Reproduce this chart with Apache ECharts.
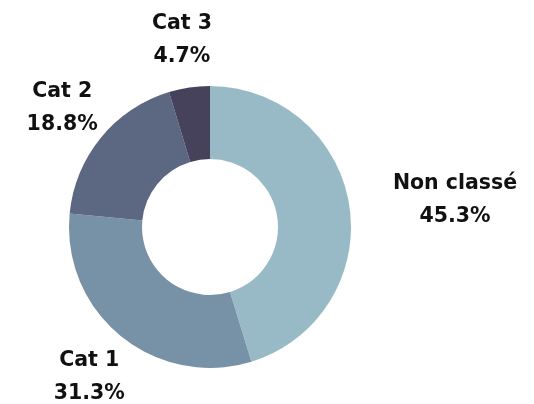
<!DOCTYPE html>
<html>
<head>
<meta charset="utf-8">
<script src="https://cdn.jsdelivr.net/npm/echarts@6/dist/echarts.min.js"></script>
<style>
html,body{margin:0;padding:0;background:#fff;}
#chart{width:534px;height:404px;}
</style>
</head>
<body>
<div id="chart"></div>
<script>
const categories = ['Non classé', 'Cat 1', 'Cat 2', 'Cat 3'];
const percentValues = [45.3, 31.3, 18.8, 4.7];
const sliceColors = ['#98bac7', '#7791a6', '#5c6881', '#46425b'];

const chart = echarts.init(document.getElementById('chart'), null, {renderer: 'canvas'});
const option = {
  backgroundColor: '#ffffff',
  animation: false,
  series: [{
    type: 'pie',
    center: [210, 227],
    radius: [68, 141],
    startAngle: 90,
    clockwise: true,
    avoidLabelOverlap: false,
    data: categories.map((name, i) => ({
      name: name,
      value: percentValues[i],
      itemStyle: {color: sliceColors[i]}
    })),
    label: {
      show: true,
      position: 'outside',
      formatter: p => p.name + '\n' + p.value.toFixed(1) + '%',
      fontFamily: 'DejaVu Sans',
      fontWeight: 'bold',
      fontSize: 20.5,
      lineHeight: 33,
      color: '#111111',
      distanceToLabelLine: 0
    },
    labelLine: {show: false, length: 50, length2: 0},
    labelLayout: function (params) {
      if (params.dataIndex === 0) {
        return {align: 'center', dx: params.labelRect.width / 2 - 6, dy: 2};
      }
      return {align: 'center', dy: 2};
    },
    emphasis: {disabled: true}
  }]
};
chart.setOption(option);
</script>
</body>
</html>
